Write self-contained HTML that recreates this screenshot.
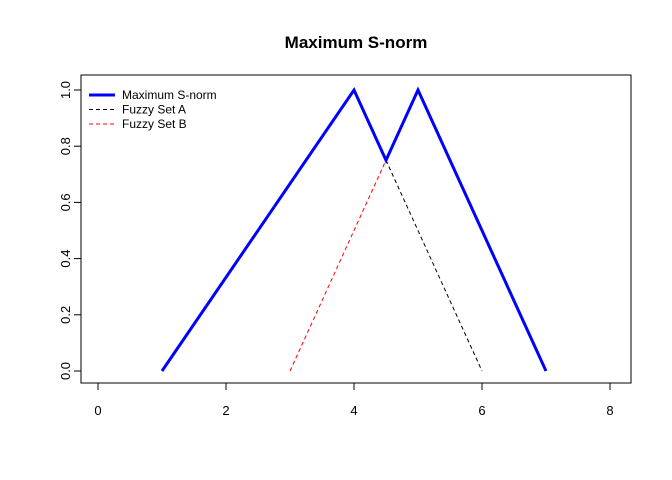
<!DOCTYPE html>
<html><head><meta charset="utf-8"><style>
body{margin:0;background:#fff;}
svg{display:block;font-family:"Liberation Sans",Arial,sans-serif;}
</style></head><body>
<svg id="chart" width="672" height="480" xmlns="http://www.w3.org/2000/svg">
<text x="356" y="48" text-anchor="middle" font-size="17" font-weight="bold">Maximum S-norm</text>
<rect x="81" y="75" width="550" height="308" fill="none" stroke="#000" stroke-width="1"/>
<g id="axes"></g>
<g id="series"></g>
<g>
<line x1="89" y1="95" x2="115" y2="95" stroke="#0000ff" stroke-width="3"/>
<text x="122" y="99" font-size="12">Maximum S-norm</text>
<line x1="89" y1="109.5" x2="115" y2="109.5" stroke="#000" stroke-dasharray="4,3"/>
<text x="122" y="113.5" font-size="12">Fuzzy Set A</text>
<line x1="89" y1="124" x2="115" y2="124" stroke="#ff0000" stroke-dasharray="4,3"/>
<text x="122" y="128" font-size="12">Fuzzy Set B</text>
</g>
</svg>
<script>
const xTicks=[0,2,4,6,8];
const yTicks=[0.0,0.2,0.4,0.6,0.8,1.0];
const aX=[4.5,6];
const aY=[0.75,0];
const bX=[3,4.5];
const bY=[0,0.75];
const maxX=[1,4,4.5,5,7];
const maxY=[0,1,0.75,1,0];
const NS="http://www.w3.org/2000/svg";
function sx(v){return 98+v*64;}
function sy(v){return 371-v*281;}
const axes=document.getElementById('axes');
const series=document.getElementById('series');
function mk(tag,attrs,parent){const e=document.createElementNS(NS,tag);for(const k in attrs)e.setAttribute(k,attrs[k]);parent.appendChild(e);return e;}
mk('line',{x1:sx(0),y1:383,x2:sx(8),y2:383,stroke:'#000'},axes);
xTicks.forEach(t=>{
  const l=mk('line',{x1:sx(t),y1:383,x2:sx(t),y2:390,stroke:'#000'},axes);
  
  
  const tx=mk('text',{x:sx(t),y:415,'text-anchor':'middle','font-size':13},axes);
  
  
  tx.textContent=t;
});
mk('line',{x1:81,y1:sy(0),x2:81,y2:sy(1),stroke:'#000'},axes);
yTicks.forEach(t=>{
  const l=mk('line',{x1:74,y1:sy(t),x2:81,y2:sy(t),stroke:'#000'},axes);
  
  
  const tx=mk('text',{x:0,y:0,'text-anchor':'middle','font-size':13,transform:`translate(70,${sy(t)}) rotate(-90)`},axes);
  
  
  tx.textContent=t.toFixed(1);
});
function line(xs,ys,stroke,w,dash,name){
  const p=mk('polyline',{points:xs.map((x,i)=>sx(x)+','+sy(ys[i])).join(' '),fill:'none',stroke:stroke,'stroke-width':w},series);
  if(dash)p.setAttribute('stroke-dasharray',dash);
  
  
}
line(aX,aY,'#000',1,'4,3','fuzzy-set-a-line');
line(bX,bY,'#ff0000',1,'4,3','fuzzy-set-b-line');
line(maxX,maxY,'#0000ff',3,null,'maximum-s-norm-line');
</script>
</body></html>
